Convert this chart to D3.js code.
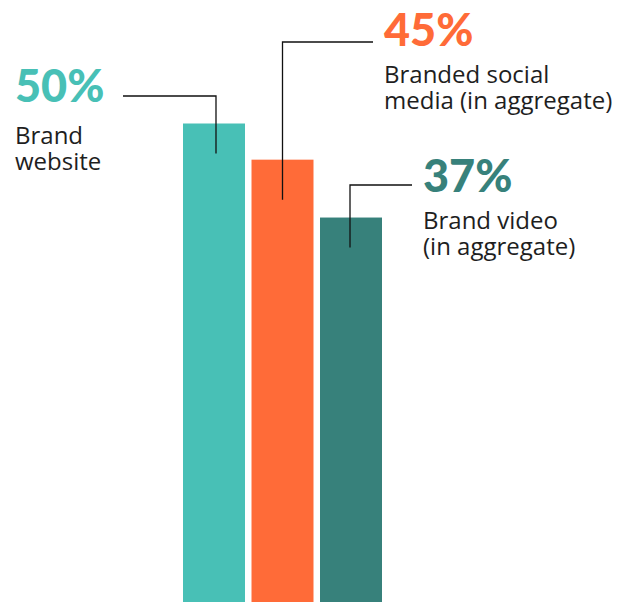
<!DOCTYPE html>
<html>
<head>
<meta charset="utf-8">
<script src="https://cdn.jsdelivr.net/npm/d3@7"></script>
<style>
  html, body { margin: 0; padding: 0; background: #fff; }
  svg { display: block; }
  .pct { font-family: Lato, "Liberation Sans", sans-serif; font-weight: 900; font-size: 45px; }
  .lbl { font-family: "Open Sans", sans-serif; font-weight: 400; font-size: 24px; fill: #1e1e1e; }
</style>
</head>
<body>
<div id="chart"></div>
<script>
// data
var categories = ["Brand website", "Branded social media (in aggregate)", "Brand video (in aggregate)"];
var values = [50, 45, 37];
var valueLabels = ["50%", "45%", "37%"];
var labelLines = [["Brand", "website"], ["Branded social", "media (in aggregate)"], ["Brand video", "(in aggregate)"]];
var colors = ["#48c0b6", "#ff6b38", "#37817b"];

var width = 631;
var height = 602;

var svg = d3.select("#chart")
  .append("svg")
  .attr("width", width)
  .attr("height", height);

var x = d3.scaleBand()
  .domain(categories)
  .range([183, 382])
  .paddingInner(0.095)
  .paddingOuter(0);

// bars are cut at the bottom of the picture, so the scale does not start at 0
var y = d3.scaleLinear()
  .domain([35, 50])
  .range([232, 123.5]);

svg.selectAll("rect.bar")
  .data(values)
  .enter()
  .append("rect")
  .attr("class", "bar")
  .attr("x", function(d, i) { return x(categories[i]); })
  .attr("y", function(d) { return y(d); })
  .attr("width", x.bandwidth())
  .attr("height", function(d) { return height - y(d); })
  .attr("fill", function(d, i) { return colors[i]; });

// where each annotation sits: text x, number baseline, leader line bits
var notes = [
  { tx: 15, ty: 102, gap: 42, lineY: 96, lineEnd: 123, dx: 2, drop: 30 },
  { tx: 384, ty: 46, gap: 37, lineY: 42, lineEnd: 373, dx: 0, drop: 40 },
  { tx: 423, ty: 192, gap: 37, lineY: 185, lineEnd: 412, dx: -1, drop: 30 }
];

notes.forEach(function(n, i) {
  var cx = x(categories[i]) + x.bandwidth() / 2 + n.dx;
  svg.append("path")
    .attr("fill", "none")
    .attr("stroke", "#111")
    .attr("stroke-width", 1.3)
    .attr("d", "M" + n.lineEnd + "," + n.lineY + "H" + cx + "V" + (y(values[i]) + n.drop));

  svg.append("text")
    .attr("class", "pct")
    .attr("x", n.tx)
    .attr("y", n.ty)
    .attr("fill", colors[i])
    .text(valueLabels[i]);

  svg.append("text")
    .attr("class", "lbl")
    .attr("x", n.tx)
    .attr("y", n.ty + n.gap)
    .selectAll("tspan")
    .data(labelLines[i])
    .enter()
    .append("tspan")
    .attr("x", n.tx)
    .attr("dy", function(d, j) { return j === 0 ? 0 : 26; })
    .text(function(d) { return d; });
});
</script>
</body>
</html>
